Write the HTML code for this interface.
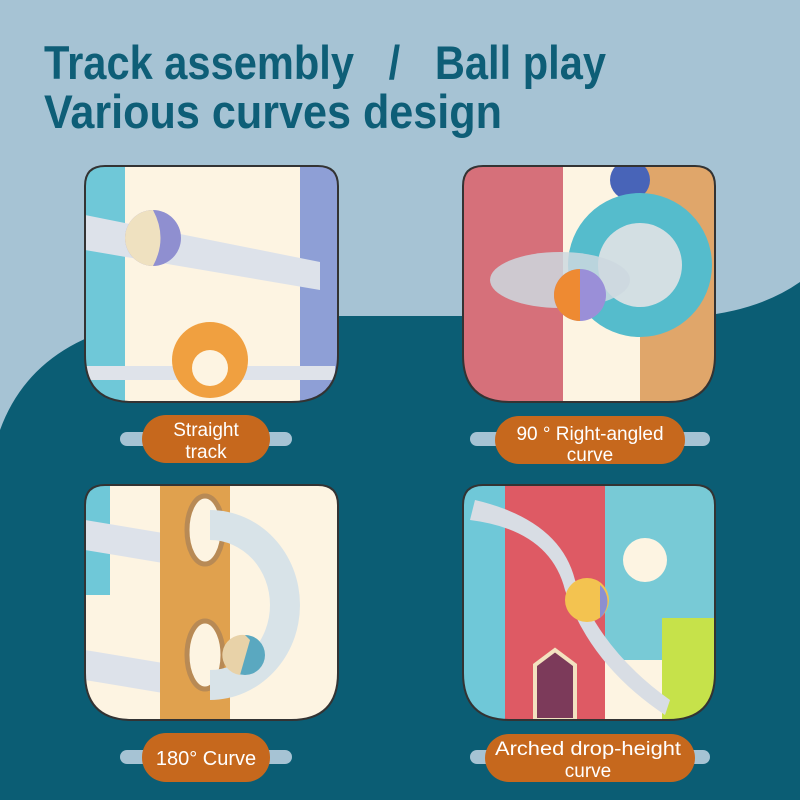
<!DOCTYPE html>
<html><head><style>
html,body{margin:0;padding:0;width:800px;height:800px;overflow:hidden;background:#a6c3d4}
svg{display:block}
</style></head><body>
<svg width="800" height="800" viewBox="0 0 800 800" xmlns="http://www.w3.org/2000/svg" font-family="Liberation Sans, sans-serif">
<defs>
<clipPath id="p1"><path d="M105 166 H318 Q338 166 338 186 V355 Q338 402 291 402 H132 Q85 402 85 355 V186 Q85 166 105 166Z"/></clipPath>
<clipPath id="p2"><path d="M483 166 H695 Q715 166 715 186 V355 Q715 402 668 402 H510 Q463 402 463 355 V186 Q463 166 483 166Z"/></clipPath>
<clipPath id="p3"><path d="M105 485 H318 Q338 485 338 505 V673 Q338 720 291 720 H132 Q85 720 85 673 V505 Q85 485 105 485Z"/></clipPath>
<clipPath id="p4"><path d="M483 485 H695 Q715 485 715 505 V673 Q715 720 668 720 H510 Q463 720 463 673 V505 Q463 485 483 485Z"/></clipPath>
</defs>
<rect width="800" height="800" fill="#a6c3d4"/>
<path d="M0 430 Q40 320 200 316 L700 316 Q760 310 800 282 V800 H0Z" fill="#0b5d74"/>
<text x="44" y="79" font-size="47" font-weight="bold" fill="#0e5e77" textLength="562" lengthAdjust="spacingAndGlyphs">Track assembly&#160;&#160;&#160;/&#160;&#160;&#160;Ball play</text>
<text x="44" y="128" font-size="47" font-weight="bold" fill="#0e5e77" textLength="458" lengthAdjust="spacingAndGlyphs">Various curves design</text>

<!-- panel 1 -->
<g clip-path="url(#p1)">
<rect x="80" y="160" width="270" height="250" fill="#fdf4e2"/>
<rect x="85" y="166" width="40" height="240" fill="#6fc8d8"/>
<rect x="300" y="166" width="40" height="240" fill="#8e9fd6"/>
<path d="M85 215 L320 262 L320 290 L85 250Z" fill="#dde2ea"/>
<circle cx="153" cy="238" r="28" fill="#8f8fd0"/>
<path d="M153 210 A28 28 0 0 0 153 266 Q168 238 153 210Z" fill="#efe1c0"/>
<rect x="85" y="366" width="250" height="14" fill="#dfe3ea"/>
<circle cx="210" cy="360" r="38" fill="#f0a040"/>
<circle cx="210" cy="368" r="18" fill="#fdf4e2"/>
</g>
<path d="M105 166 H318 Q338 166 338 186 V355 Q338 402 291 402 H132 Q85 402 85 355 V186 Q85 166 105 166Z" fill="none" stroke="#333" stroke-width="2"/>

<!-- panel 2 -->
<g clip-path="url(#p2)">
<rect x="460" y="160" width="260" height="250" fill="#fdf4e2"/>
<rect x="463" y="166" width="100" height="236" fill="#d6707a"/>
<rect x="640" y="166" width="75" height="236" fill="#e0a66a"/>
<circle cx="630" cy="180" r="20" fill="#4864b8"/>
<circle cx="640" cy="265" r="72" fill="#55bccc"/>
<circle cx="640" cy="265" r="42" fill="#d3dfe3"/>
<ellipse cx="560" cy="280" rx="70" ry="28" fill="#cdd8df" opacity="0.85"/>
<circle cx="580" cy="295" r="26" fill="#9a8fd8"/>
<path d="M580 269 A26 26 0 0 0 580 321Z" fill="#ee8a32"/>
</g>
<path d="M483 166 H695 Q715 166 715 186 V355 Q715 402 668 402 H510 Q463 402 463 355 V186 Q463 166 483 166Z" fill="none" stroke="#333" stroke-width="2"/>

<!-- panel 3 -->
<g clip-path="url(#p3)">
<rect x="80" y="480" width="270" height="250" fill="#fdf4e2"/>
<rect x="85" y="485" width="25" height="110" fill="#6fc8d8"/>
<path d="M85 520 L175 535 L175 565 L85 550Z" fill="#dde2ea"/>
<path d="M85 650 L175 665 L175 695 L85 680Z" fill="#dde2ea"/>
<rect x="160" y="485" width="70" height="240" fill="#e0a14e"/>
<ellipse cx="205" cy="530" rx="18" ry="34" fill="#fdf4e2" stroke="#b88a55" stroke-width="5"/>
<ellipse cx="205" cy="655" rx="18" ry="34" fill="#fdf4e2" stroke="#b88a55" stroke-width="5"/>
<path d="M210 510 A90 95 0 0 1 210 700 L210 670 A60 65 0 0 0 210 540Z" fill="#d8e3e8"/>
<circle cx="245" cy="655" r="20" fill="#5aa8c0"/>
<path d="M245 635 A20 20 0 0 0 240 675 L250 640Z" fill="#e8d2a8"/>
</g>
<path d="M105 485 H318 Q338 485 338 505 V673 Q338 720 291 720 H132 Q85 720 85 673 V505 Q85 485 105 485Z" fill="none" stroke="#333" stroke-width="2"/>

<!-- panel 4 -->
<g clip-path="url(#p4)">
<rect x="460" y="480" width="260" height="250" fill="#fdf4e2"/>
<rect x="463" y="485" width="45" height="240" fill="#6fc8d8"/>
<rect x="505" y="485" width="100" height="240" fill="#de5a64"/>
<rect x="605" y="485" width="110" height="175" fill="#78cad6"/>
<circle cx="645" cy="560" r="22" fill="#fdf4e2"/>
<rect x="662" y="618" width="53" height="110" fill="#c6e24a"/>
<path d="M475 500 Q560 520 575 580 Q600 650 670 700 L665 715 Q590 665 565 590 Q550 530 470 520Z" fill="#d8dde4"/>
<circle cx="587" cy="600" r="22" fill="#f3c350"/>
<path d="M600 585 A22 22 0 0 1 600 618Z" fill="#8c8fd0"/>
<path d="M535 665 L555 650 L575 665 L575 720 L535 720Z" fill="#7c3a5a" stroke="#f3e2c0" stroke-width="4"/>
</g>
<path d="M483 485 H695 Q715 485 715 505 V673 Q715 720 668 720 H510 Q463 720 463 673 V505 Q463 485 483 485Z" fill="none" stroke="#333" stroke-width="2"/>

<!-- labels -->
<g fill="#a6c3d4">
<rect x="120" y="432" width="172" height="14" rx="7"/>
<rect x="470" y="432" width="240" height="14" rx="7"/>
<rect x="120" y="750" width="172" height="14" rx="7"/>
<rect x="470" y="750" width="240" height="14" rx="7"/>
</g>
<g fill="#c6681d">
<rect x="142" y="415" width="128" height="48" rx="24"/>
<rect x="495" y="416" width="190" height="48" rx="24"/>
<rect x="142" y="733" width="128" height="49" rx="24"/>
<rect x="485" y="734" width="210" height="48" rx="24"/>
</g>
<g fill="#fff" font-size="19" text-anchor="middle">
<text x="206" y="436">Straight</text>
<text x="206" y="458">track</text>
<text x="590" y="440">90 ° Right-angled</text>
<text x="590" y="461">curve</text>
<text x="206" y="765" font-size="20">180° Curve</text>
<text x="588" y="755" textLength="186" lengthAdjust="spacingAndGlyphs">Arched drop-height</text>
<text x="588" y="777">curve</text>
</g>
</svg>
</body></html>
